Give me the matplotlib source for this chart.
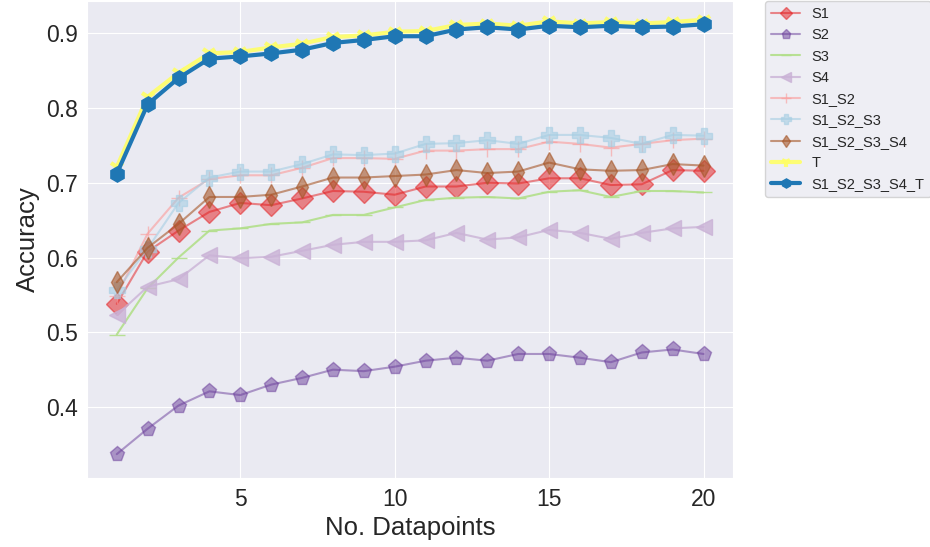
import numpy as np
import seaborn as sns
from matplotlib import pyplot as plt

sns.set_style('darkgrid')
plt.rcParams['font.family'] = ['Arial', 'Liberation Sans', 'DejaVu Sans']

# 数据点数量
x = np.arange(1, 21)

s1 = [0.538, 0.608, 0.636, 0.661, 0.673, 0.670, 0.679, 0.689, 0.688, 0.684,
      0.695, 0.695, 0.700, 0.699, 0.706, 0.706, 0.697, 0.698, 0.717, 0.716]
s2 = [0.337, 0.371, 0.402, 0.421, 0.416, 0.430, 0.439, 0.450, 0.448, 0.454,
      0.462, 0.466, 0.462, 0.471, 0.471, 0.466, 0.460, 0.473, 0.477, 0.471]
s3 = [0.497, 0.559, 0.600, 0.636, 0.639, 0.645, 0.647, 0.657, 0.657, 0.667,
      0.677, 0.680, 0.681, 0.679, 0.688, 0.690, 0.681, 0.689, 0.689, 0.687]
s4 = [0.523, 0.561, 0.571, 0.603, 0.599, 0.601, 0.609, 0.617, 0.621, 0.621,
      0.623, 0.633, 0.624, 0.627, 0.637, 0.633, 0.625, 0.633, 0.639, 0.641]
s1_s2 = [0.549, 0.632, 0.680, 0.705, 0.710, 0.710, 0.720, 0.733, 0.733, 0.732,
         0.743, 0.743, 0.745, 0.745, 0.755, 0.752, 0.747, 0.752, 0.757, 0.759]
s1_s2_s3 = [0.556, 0.612, 0.673, 0.707, 0.715, 0.715, 0.725, 0.738, 0.737, 0.739,
            0.752, 0.753, 0.757, 0.752, 0.764, 0.764, 0.760, 0.752, 0.764, 0.763]
s1_s2_s3_s4 = [0.567, 0.613, 0.645, 0.681, 0.681, 0.684, 0.695, 0.707, 0.707, 0.709,
               0.711, 0.717, 0.713, 0.715, 0.727, 0.718, 0.716, 0.717, 0.725, 0.723]
t = [0.721, 0.815, 0.847, 0.873, 0.875, 0.881, 0.886, 0.895, 0.897, 0.902,
     0.903, 0.911, 0.913, 0.910, 0.916, 0.913, 0.915, 0.913, 0.915, 0.918]
all_t = [0.712, 0.805, 0.840, 0.866, 0.869, 0.873, 0.878, 0.887, 0.891, 0.896,
         0.896, 0.905, 0.908, 0.905, 0.910, 0.908, 0.910, 0.908, 0.909, 0.912]

fig = plt.figure(figsize=(9.3, 5.47), dpi=100)
ax = fig.add_axes([0.094, 0.126, 0.694, 0.872])

ax.plot(x, s1, marker='D', color='#e41a1c', alpha=0.5, markersize=11, label='S1')
ax.plot(x, s2, marker='p', color='#6a3d9a', alpha=0.5, markersize=11, label='S2')
ax.plot(x, s3, marker='_', color='#b2df8a', alpha=0.9, markersize=11, label='S3')
ax.plot(x, s4, marker='<', color='#cab2d6', alpha=0.8, markersize=11, label='S4')
ax.plot(x, s1_s2, marker='+', color='#fb9a99', alpha=0.6, markersize=11, label='S1_S2')
ax.plot(x, s1_s2_s3, marker='P', color='#a6cee3', alpha=0.6, markersize=11, label='S1_S2_S3')
ax.plot(x, s1_s2_s3_s4, marker='d', color='#a65628', alpha=0.6, markersize=11, label='S1_S2_S3_S4')
ax.plot(x, t, marker='1', color='#ffff66', alpha=0.9, lw=3, markersize=11, mew=3, label='T')
ax.plot(x, all_t, marker='h', color='#1f77b4', lw=3, markersize=11, label='S1_S2_S3_S4_T')

ax.set_xlim(0.05, 20.95)
ax.set_ylim(0.305, 0.943)
ax.set_xticks([5, 10, 15, 20])
ax.set_yticks([0.4, 0.5, 0.6, 0.7, 0.8, 0.9])
ax.tick_params(labelsize=16.5)
ax.set_xlabel('No. Datapoints', fontsize=18.5)
ax.set_ylabel('Accuracy', fontsize=18.5)
ax.legend(loc='upper left', bbox_to_anchor=(1.05, 1.0), borderaxespad=0.,
          fontsize=10.5, markerscale=0.6)

fig.savefig('out.png', dpi=100)
